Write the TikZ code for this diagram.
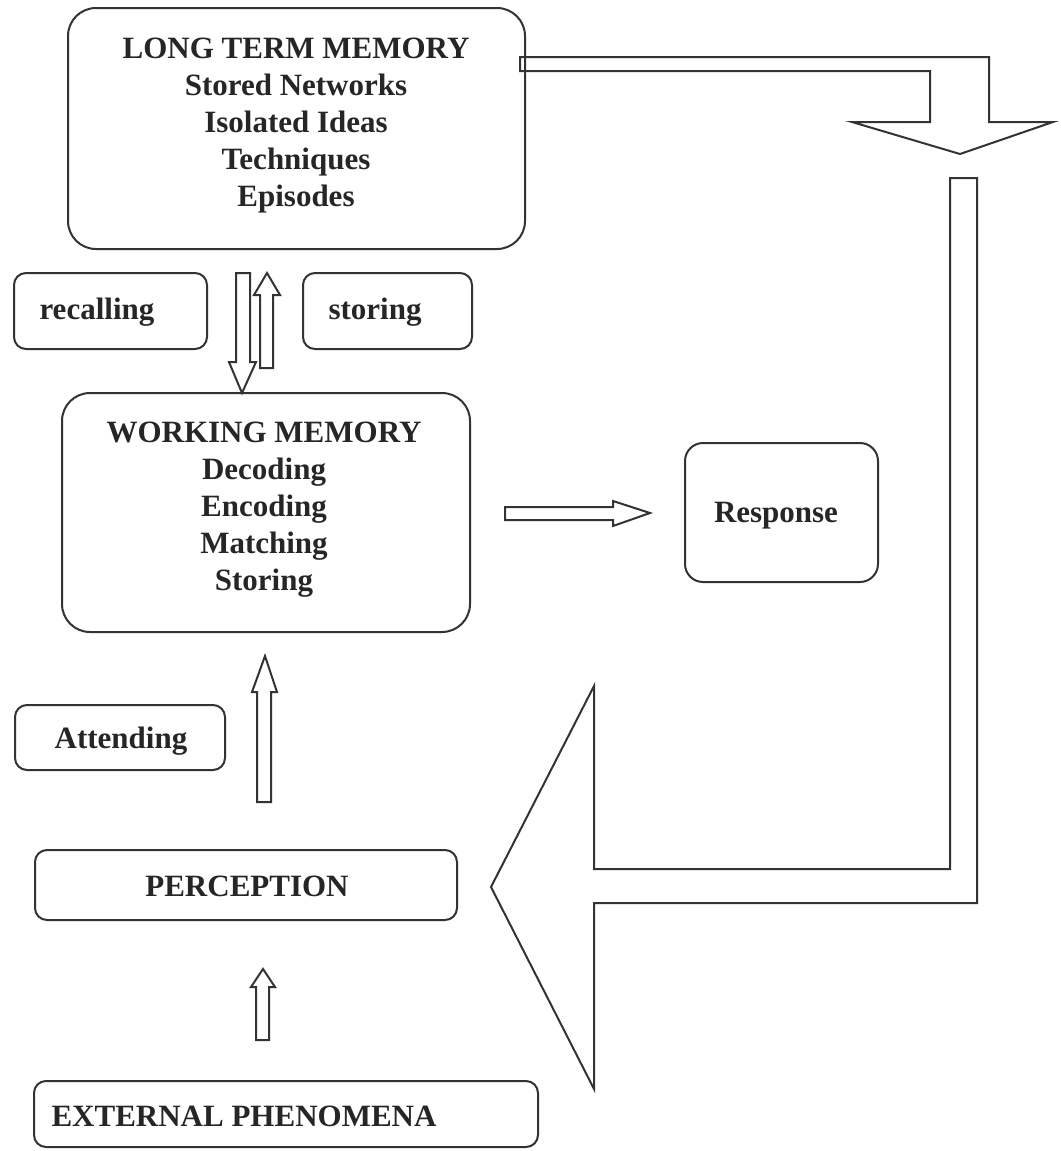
\documentclass[tikz,border=0pt]{standalone}
\usepackage{fontspec}
\setmainfont{Liberation Serif}
\begin{document}
\begin{tikzpicture}[x=1pt,y=-1pt, every node/.style={font=\bfseries\fontsize{31}{37}\selectfont, text=black!85}]
	\tikzstyle{box} = [rectangle,draw=black!80,line width=2pt,rounded corners=12pt,inner sep=0pt]
	\tikzstyle{bigbox} = [box,rounded corners=28pt]
	\tikzstyle{blk} = [draw=black!80,line width=2pt,line join=miter]
	\useasboundingbox (0,0) rectangle (1060,1151);
	% boxes
	\node[bigbox,minimum width=457pt,minimum height=241pt](ltm)at(296.5,128.5){};
	\node[box,minimum width=193pt,minimum height=76pt](recallbox)at(110.5,311){};
	\node[box,minimum width=169pt,minimum height=76pt](storebox)at(387.5,311){};
	\node[bigbox,minimum width=408pt,minimum height=239pt](wm)at(266,512.5){};
	\node[box,rounded corners=18pt,minimum width=193pt,minimum height=139pt](resp)at(781.5,512.5){};
	\node[box,minimum width=210pt,minimum height=65pt](attbox)at(120,737.5){};
	\node[box,minimum width=422pt,minimum height=70pt](perc)at(246,885){};
	\node[box,minimum width=504pt,minimum height=66pt](ext)at(286,1114){};
	% texts
	\node[align=center](ltmtext)at(296,126){LONG TERM MEMORY\\Stored Networks\\Isolated Ideas\\Techniques\\Episodes};
	\node[align=center](wmtext)at(264,509.5){WORKING MEMORY\\Decoding\\Encoding\\Matching\\Storing};
	\node[anchor=west](recall)at(36,312){recalling};
	\node[anchor=west](store)at(325,312){storing};
	\node[](resptext)at(776,516){Response};
	\node[](att)at(121,741){Attending};
	\node[](perctext)at(247,886){PERCEPTION};
	\node[anchor=west](exttext)at(48,1116){EXTERNAL PHENOMENA};
	% block arrows
	\draw[blk] (236,273)--(250,273)--(250,362)--(256,362)--(242,393)--(229,362)--(236,362)--cycle;
	\draw[blk] (260,368)--(273,368)--(273,295)--(280,295)--(267,273)--(254,295)--(260,295)--cycle;
	\draw[blk] (505,507)--(613,507)--(613,501)--(650,513)--(613,526)--(613,520)--(505,520)--cycle;
	\draw[blk] (257,802)--(271,802)--(271,692)--(277,692)--(265,656)--(252,692)--(257,692)--cycle;
	\draw[blk] (256,1040)--(269,1040)--(269,987)--(275,987)--(263,969)--(251,987)--(256,987)--cycle;
	\draw[blk] (520,57)--(989,57)--(989,122)--(1053,122)--(960,154)--(852,122)--(930,122)--(930,71)--(520,71)--cycle;
	\draw[blk] (950,178)--(977,178)--(977,903)--(594,903)--(594,1089)--(491,887)--(594,686)--(594,869)--(950,869)--cycle;
\end{tikzpicture}
\end{document}
